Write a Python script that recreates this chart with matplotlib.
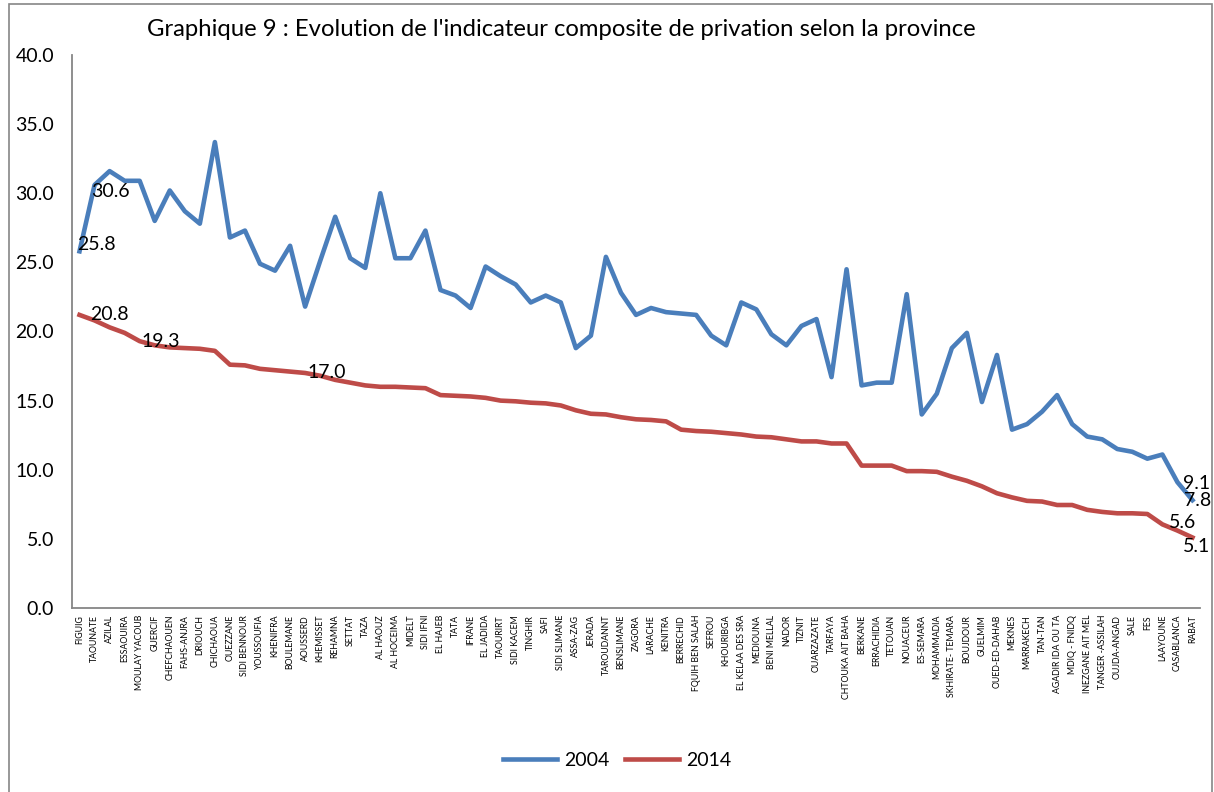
import numpy as np
import matplotlib
matplotlib.use("Agg")
import matplotlib.pyplot as plt
from matplotlib.patches import Rectangle

plt.rcParams['font.family'] = ['Lato', 'DejaVu Sans']

provinces = [
    "FIGUIG", "TAOUNATE", "AZILAL", "ESSAOUIRA", "MOULAY YACOUB", "GUERCIF",
    "CHEFCHAOUEN", "FAHS-ANJRA", "DRIOUCH", "CHICHAOUA", "OUEZZANE", "SIDI BENNOUR",
    "YOUSSOUFIA", "KHENIFRA", "BOULEMANE", "AOUSSERD", "KHEMISSET", "REHAMNA",
    "SETTAT", "TAZA", "AL HAOUZ", "AL HOCEIMA", "MIDELT", "SIDI IFNI", "EL HAJEB",
    "TATA", "IFRANE", "EL JADIDA", "TAOURIRT", "SIDI KACEM", "TINGHIR", "SAFI",
    "SIDI SLIMANE", "ASSA-ZAG", "JERADA", "TAROUDANNT", "BENSLIMANE", "ZAGORA",
    "LARACHE", "KENITRA", "BERRECHID", "FQUIH BEN SALAH", "SEFROU", "KHOURIBGA",
    "EL KELAA DES SRA", "MEDIOUNA", "BENI MELLAL", "NADOR", "TIZNIT", "OUARZAZATE",
    "TARFAYA", "CHTOUKA AIT BAHA", "BERKANE", "ERRACHIDIA", "TETOUAN", "NOUACEUR",
    "ES-SEMARA", "MOHAMMADIA", "SKHIRATE- TEMARA", "BOUJDOUR", "GUELMIM",
    "OUED-ED-DAHAB", "MEKNES", "MARRAKECH", "TAN-TAN", "AGADIR IDA OU TA",
    "MDIQ - FNIDQ", "INEZGANE AIT MEL", "TANGER -ASSILAH", "OUJDA-ANGAD", "SALE",
    "FES", "LAAYOUNE", "CASABLANCA", "RABAT",
]

v2004 = [
    25.8, 30.6, 31.6, 30.9, 30.9, 28.0, 30.2, 28.7, 27.8, 33.7,
    26.8, 27.3, 24.9, 24.4, 26.2, 21.8, 25.1, 28.3, 25.3, 24.6,
    30.0, 25.3, 25.3, 27.3, 23.0, 22.6, 21.7, 24.7, 24.0, 23.4,
    22.1, 22.6, 22.1, 18.8, 19.7, 25.4, 22.8, 21.2, 21.7, 21.4,
    21.3, 21.2, 19.7, 19.0, 22.1, 21.6, 19.8, 19.0, 20.4, 20.9,
    16.7, 24.5, 16.1, 16.3, 16.3, 22.7, 14.0, 15.5, 18.8, 19.9,
    14.9, 18.3, 12.9, 13.3, 14.2, 15.4, 13.3, 12.4, 12.2, 11.5,
    11.3, 10.8, 11.1, 9.1, 7.8,
]

v2014 = [
    21.2, 20.8, 20.3, 19.9, 19.3, 19.0, 18.85, 18.8, 18.75, 18.6,
    17.6, 17.55, 17.3, 17.2, 17.1, 17.0, 16.8, 16.5, 16.3, 16.1,
    16.0, 16.0, 15.95, 15.9, 15.4, 15.35, 15.3, 15.2, 15.0, 14.95,
    14.85, 14.8, 14.65, 14.3, 14.05, 14.0, 13.8, 13.65, 13.6, 13.5,
    12.9, 12.8, 12.75, 12.65, 12.55, 12.4, 12.35, 12.2, 12.05, 12.05,
    11.9, 11.9, 10.3, 10.3, 10.3, 9.9, 9.9, 9.85, 9.5, 9.2,
    8.8, 8.3, 8.0, 7.75, 7.7, 7.45, 7.45, 7.1, 6.95, 6.85,
    6.85, 6.8, 6.05, 5.6, 5.1,
]

BLUE = "#4A7EBB"
RED = "#BE4B48"
GRAY = "#868686"

fig = plt.figure(figsize=(12.14, 7.92), dpi=100)
fig.patches.append(Rectangle((9 / 1214, -0.1), (1212 - 9) / 1214, 1.1 - 4 / 792,
                             transform=fig.transFigure, fill=False,
                             edgecolor=GRAY, linewidth=1.2))

ax = fig.add_axes([72 / 1214, 1 - 608 / 792, (1200 - 72) / 1214, (608 - 55) / 792])
x = np.arange(len(provinces))
ax.plot(x, v2004, color=BLUE, lw=3.3, label="2004", solid_joinstyle="round")
ax.plot(x, v2014, color=RED, lw=3.3, label="2014", solid_joinstyle="round")

ax.set_xlim(-0.5, len(provinces) - 0.5)
ax.set_ylim(0, 40)
ax.set_yticks(np.arange(0, 41, 5))
ax.set_yticklabels(["%.1f" % t for t in np.arange(0, 41, 5)], fontsize=14)
ax.set_xticks(x)
ax.set_xticklabels(provinces, rotation=90, fontsize=6.3, va="top", ha="center")
ax.tick_params(axis="y", length=0, pad=13)
ax.tick_params(axis="x", length=0, pad=5)
for s in ["top", "right"]:
    ax.spines[s].set_visible(False)
for s in ["left", "bottom"]:
    ax.spines[s].set_color(GRAY)
    ax.spines[s].set_linewidth(1.3)

# data labels (index, series, pixel offset)
labels = [
    (0, v2004, (-2, 7)), (1, v2004, (-3, -7)),
    (1, v2014, (-4, 6)), (4, v2014, (2, 0)), (15, v2014, (2, 0)),
    (73, v2004, (6, -1)), (74, v2004, (-8, 0)),
    (73, v2014, (-9, 8)), (74, v2014, (-10, -9)),
]
for i, ser, off in labels:
    ax.annotate("%.1f" % ser[i], (i, ser[i]), xytext=off, textcoords="offset pixels",
                ha="left", va="center", fontsize=14, color="black")

fig.text(561 / 1214, 1 - 30 / 792,
         "Graphique 9 : Evolution de l'indicateur composite de privation selon la province",
         ha="center", va="center", fontsize=17.2)

fig.legend(loc="center", bbox_to_anchor=(617 / 1214, 1 - 760 / 792), ncol=2,
           frameon=False, fontsize=14, handlelength=2.8, columnspacing=0.8,
           handletextpad=0.35)

fig.savefig("out.png", dpi=100)
